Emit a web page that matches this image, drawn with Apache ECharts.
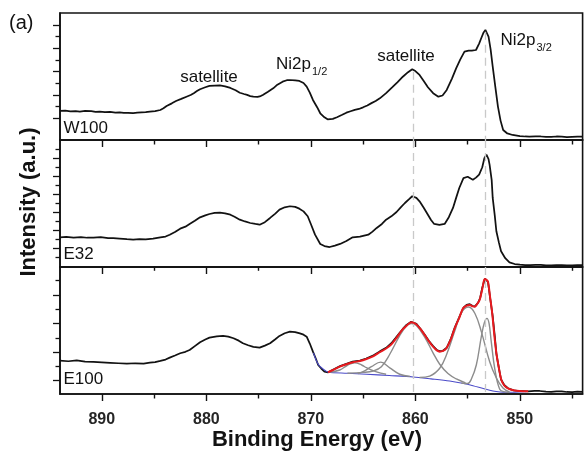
<!DOCTYPE html>
<html>
<head>
<meta charset="utf-8">
<script src="https://cdn.jsdelivr.net/npm/echarts@6/dist/echarts.min.js"></script>
<style>
html,body{margin:0;padding:0;background:#fff}
#chart{width:584px;height:451px}
</style>
</head>
<body>
<div id="chart"></div>
<script>
// Ni 2p XPS spectra of three samples (intensity in arbitrary units, stacked panels)
const sampleNames = ['W100', 'E32', 'E100'];

// Binding energy axis (eV)
const energyMin = 844, energyMax = 894;
const energyMajorTicks = [850, 860, 870, 880, 890];
const energyMinorTicks = [845, 855, 865, 875, 885];

// Reference energies of the satellite and Ni2p3/2 main line (dashed guides)
const guideEnergies = [860.2, 853.3];
const guideTopW100 = [5.99, 9.42];

// W100 spectrum [eV, intensity]
const w100 = [[894.0,2.63],[893.5,2.66],[893.0,2.60],[892.5,2.62],[892.1,2.58],[891.6,2.63],[891.0,2.61],[890.6,2.55],[890.2,2.57],[889.7,2.53],[889.2,2.55],[888.7,2.49],[888.3,2.51],[887.9,2.46],[887.5,2.47],[887.0,2.45],[886.6,2.48],[886.2,2.50],[885.8,2.52],[885.4,2.57],[884.9,2.62],[884.4,2.71],[884.1,2.86],[883.8,3.05],[883.3,3.28],[882.9,3.48],[882.4,3.66],[881.9,3.85],[881.5,4.00],[881.2,4.15],[880.9,4.33],[880.6,4.49],[880.1,4.66],[879.7,4.77],[879.2,4.80],[878.7,4.81],[878.2,4.74],[877.7,4.60],[877.2,4.40],[876.8,4.19],[876.4,4.08],[876.1,4.00],[875.8,3.90],[875.5,3.85],[875.1,3.83],[874.8,3.90],[874.6,4.00],[874.1,4.28],[873.6,4.57],[873.2,4.88],[872.7,5.14],[872.3,5.26],[872.0,5.28],[871.5,5.25],[871.1,5.20],[870.7,5.02],[870.4,4.71],[870.1,4.20],[869.8,3.57],[869.4,2.95],[869.1,2.43],[868.7,2.08],[868.4,1.91],[867.9,1.95],[867.5,2.09],[867.0,2.30],[866.6,2.48],[866.2,2.60],[865.8,2.72],[865.4,2.80],[865.0,2.94],[864.6,3.10],[864.2,3.30],[863.8,3.48],[863.4,3.71],[862.8,4.15],[862.2,4.66],[861.7,5.10],[861.2,5.56],[860.7,5.95],[860.3,6.20],[860.0,6.05],[859.6,5.71],[859.2,5.20],[858.8,4.66],[858.3,4.15],[857.8,3.85],[857.4,3.95],[857.0,4.43],[856.5,5.40],[856.1,6.28],[855.7,7.05],[855.3,7.71],[854.9,7.80],[854.6,7.79],[854.2,7.85],[853.9,8.40],[853.7,8.86],[853.5,9.30],[853.3,9.57],[853.0,8.99],[852.8,7.90],[852.6,6.42],[852.35,4.70],[852.1,3.00],[851.85,1.80],[851.6,1.00],[851.2,0.70],[850.7,0.57],[850.0,0.48],[849.5,0.44],[849.1,0.42],[848.5,0.45],[848.0,0.44],[847.5,0.40],[847.0,0.40],[846.5,0.44],[846.0,0.43],[845.5,0.39],[845.0,0.41],[844.5,0.43],[844.0,0.42]];

// E32 spectrum [eV, intensity]
const e32 = [[894.0,3.22],[893.4,3.26],[892.7,3.19],[892.0,3.24],[891.4,3.17],[890.8,3.18],[890.1,3.23],[889.4,3.14],[888.9,3.12],[888.3,3.07],[887.6,3.01],[887.0,2.96],[886.4,3.02],[885.8,2.98],[885.1,3.07],[884.4,3.22],[883.9,3.30],[883.5,3.51],[883.0,3.80],[882.5,4.18],[882.0,4.40],[881.6,4.70],[881.1,5.05],[880.6,5.44],[880.1,5.66],[879.7,5.81],[879.2,5.93],[878.7,5.96],[878.2,5.88],[877.7,5.73],[877.3,5.50],[876.8,5.18],[876.3,4.98],[875.8,4.81],[875.3,4.70],[874.9,4.62],[874.4,4.90],[873.9,5.37],[873.4,5.85],[873.0,6.29],[872.5,6.55],[872.0,6.67],[871.5,6.60],[871.1,6.40],[870.7,6.10],[870.3,5.56],[870.0,4.70],[869.6,3.51],[869.1,2.48],[868.7,2.25],[868.2,2.14],[867.7,2.30],[867.2,2.48],[866.6,2.80],[866.0,3.22],[865.3,3.30],[864.5,3.51],[864.1,3.85],[863.7,4.26],[863.2,4.70],[862.8,5.18],[862.3,5.55],[861.8,6.03],[861.4,6.55],[861.0,7.03],[860.6,7.45],[860.3,7.78],[859.9,7.60],[859.6,7.22],[859.2,6.50],[858.8,5.73],[858.5,5.15],[858.2,4.70],[857.7,4.60],[857.2,4.70],[856.8,5.45],[856.4,6.48],[856.1,7.60],[855.8,8.70],[855.4,9.80],[855.0,9.95],[854.7,9.75],[854.5,9.62],[854.2,9.85],[853.9,10.18],[853.6,11.0],[853.4,12.0],[853.2,12.40],[853.0,11.9],[852.9,11.29],[852.7,9.6],[852.6,7.59],[852.4,5.6],[852.25,3.89],[852.0,2.6],[851.8,1.67],[851.4,0.9],[851.0,0.44],[850.5,0.25],[850.0,0.18],[849.5,0.14],[849.0,0.12],[848.5,0.16],[848.0,0.15],[847.5,0.11],[847.0,0.10],[846.5,0.14],[846.0,0.13],[845.5,0.09],[845.0,0.11],[844.5,0.14],[844.0,0.12]];

// E100 spectrum [eV, intensity]
const e100 = [[894.0,2.40],[893.2,2.36],[892.4,2.42],[891.6,2.33],[890.8,2.31],[890.0,2.28],[889.2,2.25],[888.4,2.22],[887.6,2.19],[886.8,2.22],[886.0,2.20],[885.4,2.26],[884.9,2.30],[884.4,2.38],[883.9,2.48],[883.5,2.61],[883.0,2.76],[882.5,2.92],[882.0,3.02],[881.6,3.15],[881.1,3.42],[880.6,3.69],[880.1,3.88],[879.7,4.01],[879.0,4.10],[878.4,4.13],[877.9,4.08],[877.4,3.97],[876.9,3.80],[876.5,3.62],[876.0,3.48],[875.5,3.36],[874.9,3.31],[874.4,3.45],[873.9,3.62],[873.4,3.90],[873.0,4.13],[872.5,4.32],[872.0,4.43],[871.5,4.40],[871.05,4.31],[870.7,4.22],[870.4,4.08],[870.1,3.60],[869.8,3.03],[869.5,2.50],[869.3,2.10],[869.0,1.85],[868.7,1.63],[868.35,1.59],[867.8,1.80],[867.2,2.02],[866.6,2.18],[866.0,2.33],[865.3,2.40],[864.7,2.55],[864.0,2.78],[863.4,3.05],[862.8,3.30],[862.3,3.62],[861.9,3.98],[861.5,4.35],[861.2,4.62],[860.85,4.90],[860.4,5.12],[859.9,4.98],[859.5,4.62],[859.1,4.22],[858.7,3.78],[858.3,3.42],[857.95,3.15],[857.7,3.07],[857.4,3.08],[857.0,3.30],[856.6,3.95],[856.24,4.70],[855.8,5.45],[855.4,6.10],[855.1,6.30],[854.8,6.35],[854.5,6.22],[854.3,6.20],[854.0,6.45],[853.8,6.80],[853.6,7.50],[853.35,8.13],[853.2,8.10],[853.05,7.90],[852.85,6.80],[852.6,5.50],[852.4,4.10],[852.25,2.90],[852.0,1.85],[851.8,1.08],[851.5,0.70],[851.14,0.47],[850.6,0.32],[850.0,0.28],[849.2,0.25],[848.6,0.29],[848.1,0.28],[847.5,0.24],[847.0,0.22],[846.5,0.26],[846.0,0.25],[845.5,0.21],[845.0,0.20],[844.5,0.24],[844.0,0.22]];

// E100 peak fit: envelope, Shirley background and components
const e100Envelope = [[868.35,1.59],[867.8,1.78],[867.23,1.98],[866.6,2.15],[865.96,2.29],[865.3,2.38],[864.68,2.52],[864.0,2.72],[863.41,2.99],[862.8,3.25],[862.29,3.55],[861.9,3.90],[861.5,4.31],[861.2,4.60],[860.85,4.85],[860.6,5.00],[860.38,5.08],[860.1,5.03],[859.9,4.94],[859.5,4.60],[859.11,4.20],[858.7,3.75],[858.31,3.38],[857.95,3.12],[857.67,3.03],[857.35,3.08],[857.03,3.27],[856.6,3.90],[856.24,4.66],[855.8,5.40],[855.44,6.06],[855.1,6.25],[854.8,6.29],[854.5,6.20],[854.32,6.17],[854.1,6.35],[853.85,6.64],[853.6,7.40],[853.37,8.11],[853.2,8.05],[853.05,7.92],[852.85,6.85],[852.63,5.59],[852.45,4.20],[852.25,2.92],[852.0,1.85],[851.77,1.05],[851.5,0.68],[851.14,0.47],[850.6,0.33],[850.02,0.28],[849.2,0.26]];
const e100Background = [[869.75,2.95],[869.5,2.45],[869.2,2.05],[868.95,1.89],[868.6,1.70],[868.35,1.59],[866.5,1.52],[864.68,1.45],[862.5,1.36],[860.22,1.26],[858.5,1.13],[856.72,0.98],[855.5,0.82],[854.49,0.65],[853.5,0.45],[852.58,0.28],[851.9,0.21],[851.3,0.19],[849.38,0.23]];
const fitNi3_2 = [[855.6,0.84],[855.0,0.80],[854.65,1.10],[854.17,2.10],[853.69,4.08],[853.4,5.05],[853.15,5.36],[852.95,5.00],[852.74,3.73],[852.41,1.87],[851.93,0.40],[851.46,0.22],[851.0,0.19]];
const fitNi3_2b = [[859.6,1.22],[858.63,1.32],[857.67,1.87],[857.03,2.80],[856.24,4.45],[855.6,5.75],[854.9,6.15],[854.3,5.70],[853.69,4.43],[852.89,2.33],[852.25,1.19],[851.62,0.49],[851.0,0.22]];
const fitSat1 = [[866.5,1.52],[865.0,1.58],[864.05,1.68],[863.25,1.98],[862.45,2.85],[861.5,4.15],[860.85,4.82],[860.38,5.00],[859.9,4.86],[859.11,4.05],[858.31,2.95],[857.67,2.15],[856.88,1.50],[856.08,1.12],[855.2,0.85]];
const fitSat2 = [[868.3,1.59],[867.23,1.75],[866.5,2.08],[865.8,2.26],[865.1,2.08],[864.68,1.91],[863.72,1.62],[862.8,1.45]];
const fitSat3 = [[865.5,1.50],[865.0,1.63],[864.21,1.98],[863.31,2.30],[862.45,1.90],[861.5,1.45],[860.5,1.30]];

// Intensity axis ranges and tick marks of each panel
const intensityRanges = [[0.14, 11.02], [-0.08, 14.03], [0.07, 8.95]];
const intensityMajorTicks = [[2,4,6,8,10], [2,4,6,8,10,12], [1,3,5,7]];
const intensityMinorTicks = [[3,5,7,9], [1,3,5,7,9,11,13], [2,4,6,8]];

const FONT = '"Liberation Sans", Arial, Helvetica, sans-serif';
const INK = '#121212';
const panelTops = [13, 140, 267];
const panelHeight = 127;

const grid = panelTops.map(t => ({
  left: 60, width: 522.6, top: t, height: panelHeight,
  show: true, borderColor: INK, borderWidth: 1.6, backgroundColor: 'transparent'
}));

const xAxis = [], yAxis = [];
panelTops.forEach((t, i) => {
  const last = i === panelTops.length - 1;
  xAxis.push({
    type: 'value', gridIndex: i, min: energyMin, max: energyMax, inverse: true, position: 'bottom',
    axisLine: { show: true, onZero: false, lineStyle: { color: INK, width: 1.6 } },
    axisTick: { show: true, inside: false, length: 7, customValues: energyMajorTicks, lineStyle: { color: INK, width: 1.4 } },
    axisLabel: { show: last, customValues: energyMajorTicks, margin: 18, color: '#262626',
      fontFamily: FONT, fontSize: 16, fontWeight: 'bold' },
    splitLine: { show: false }
  });
  xAxis.push({
    type: 'value', gridIndex: i, min: energyMin, max: energyMax, inverse: true, position: 'bottom',
    axisLine: { show: false },
    axisTick: { show: true, inside: false, length: 4.5, customValues: energyMinorTicks, lineStyle: { color: INK, width: 1.4 } },
    axisLabel: { show: false }, splitLine: { show: false }
  });
  const [lo, hi] = intensityRanges[i];
  yAxis.push({
    type: 'value', gridIndex: i, min: lo, max: hi, position: 'left',
    axisLine: { show: true, onZero: false, lineStyle: { color: INK, width: 1.6 } },
    axisTick: { show: true, inside: false, length: 7, customValues: intensityMajorTicks[i], lineStyle: { color: INK, width: 1.3 } },
    axisLabel: { show: false }, splitLine: { show: false }
  });
  yAxis.push({
    type: 'value', gridIndex: i, min: lo, max: hi, position: 'left',
    axisLine: { show: false },
    axisTick: { show: true, inside: false, length: 4.5, customValues: intensityMinorTicks[i], lineStyle: { color: INK, width: 1.3 } },
    axisLabel: { show: false }, splitLine: { show: false }
  });
});

function curve(data, panel, color, width, z, smooth) {
  return {
    type: 'line', data, xAxisIndex: panel * 2, yAxisIndex: panel * 2,
    showSymbol: false, symbol: 'none', smooth: smooth || false, z: z, silent: true,
    lineStyle: { color, width }, animation: false
  };
}

const guideStyle = { color: '#c9c9c9', width: 1.3, type: [8, 5] };
function guides(panel) {
  const [lo, hi] = intensityRanges[panel];
  const data = guideEnergies.map((e, k) => {
    const top = panel === 0 ? guideTopW100[k] : hi;
    return [{ coord: [e, top] }, { coord: [e, lo] }];
  });
  return {
    type: 'line', data: [], xAxisIndex: panel * 2, yAxisIndex: panel * 2, z: 1, silent: true,
    markLine: { silent: true, symbol: ['none', 'none'], label: { show: false },
      lineStyle: guideStyle, animation: false, data }
  };
}

const gray = '#8c8c8c';
const series = [
  guides(0), guides(1), guides(2),
  curve(w100, 0, INK, 1.75, 3),
  curve(e32, 1, INK, 1.75, 3),
  curve(e100, 2, INK, 1.75, 3),
  curve(e100Background, 2, '#4b4bc8', 1.1, 4, 0.3),
  curve(fitSat2, 2, gray, 1.4, 4, 0.4),
  curve(fitSat3, 2, gray, 1.4, 4, 0.4),
  curve(fitSat1, 2, gray, 1.4, 4, 0.4),
  curve(fitNi3_2b, 2, gray, 1.4, 4, 0.4),
  curve(fitNi3_2, 2, gray, 1.4, 4, 0.4),
  curve(e100Envelope, 2, '#e8191e', 2, 5, 0.3)
];

// Peak annotations, panel names and axis titles
function subLabel(main, sub) {
  return '{m|' + main + '}{s|' + sub + '}';
}
const richNi = {
  m: { fontFamily: FONT, fontSize: 17, fill: INK, color: INK },
  s: { fontFamily: FONT, fontSize: 11, fill: INK, color: INK, padding: [15, 0, 0, 1] }
};
const texts = [
  { text: '(a)', x: 9, y: 23, size: 20, align: 'left' },
  { text: 'satellite', x: 209, y: 77, size: 17, align: 'center' },
  { text: 'satellite', x: 406, y: 56, size: 17, align: 'center' },
  { text: sampleNames[0], x: 63.5, y: 128, size: 17, align: 'left' },
  { text: sampleNames[1], x: 63.5, y: 254.5, size: 17, align: 'left' },
  { text: sampleNames[2], x: 63.5, y: 379.5, size: 17, align: 'left' }
];
const graphic = texts.map(t => ({
  type: 'text', x: t.x, y: t.y, silent: true, z: 10,
  style: { text: t.text, fontFamily: FONT, fontSize: t.size, fill: INK, align: t.align, verticalAlign: 'middle' }
}));
graphic.push({
  type: 'text', x: 276, y: 64.5, silent: true, z: 10,
  style: { text: subLabel('Ni2p', '1/2'), rich: richNi, fill: INK, align: 'left', verticalAlign: 'middle' }
});
graphic.push({
  type: 'text', x: 500.5, y: 40.5, silent: true, z: 10,
  style: { text: subLabel('Ni2p', '3/2'), rich: richNi, fill: INK, align: 'left', verticalAlign: 'middle' }
});
graphic.push({
  type: 'text', x: 317, y: 440, silent: true, z: 10,
  style: { text: 'Binding Energy (eV)', fontFamily: FONT, fontSize: 22, fontWeight: 'bold', fill: INK, align: 'center', verticalAlign: 'middle' }
});
graphic.push({
  type: 'text', x: 28.5, y: 202, rotation: Math.PI / 2, silent: true, z: 10,
  style: { text: 'Intensity (a.u.)', fontFamily: FONT, fontSize: 22, fontWeight: 'bold', fill: INK, align: 'center', verticalAlign: 'middle' }
});

const chart = echarts.init(document.getElementById('chart'), null, { renderer: 'canvas' });
chart.setOption({
  animation: false,
  backgroundColor: '#ffffff',
  grid, xAxis, yAxis, series, graphic
});
</script>
</body>
</html>
